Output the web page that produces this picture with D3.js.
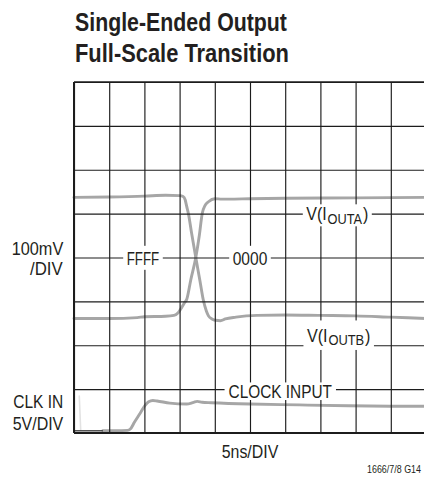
<!DOCTYPE html>
<html><head><meta charset="utf-8">
<script src="https://cdn.jsdelivr.net/npm/d3@7"></script>
<style>
html,body{margin:0;padding:0;background:#fff;overflow:hidden;}
svg{display:block;}
text{font-family:"Liberation Sans",Arial,Helvetica,sans-serif;fill:#231f20;}
</style></head><body>
<svg id="chart" width="424" height="487"></svg>
<script>
// ---- data (time in ns, level in screen divisions from bottom) ----
const timeTicks = [0,5,10,15,20,25,30,35,40,45,50];
const divTicks  = [0,1,2,3,4,5,6,7,8];

const timeA  = [0,5,10,13,15,15.5,15.8,16.0,16.24,16.7,17.3,17.9,18.37,18.8,19.1,19.6,20.1,20.8,21.5,23,26,30,35,40,45,50];
const levelA = [5.37,5.38,5.40,5.42,5.41,5.39,5.31,5.17,5.01,4.56,4.0,3.46,3.03,2.78,2.67,2.60,2.57,2.56,2.60,2.64,2.68,2.69,2.68,2.67,2.64,2.61];

const timeB  = [0,5,9,10,13,14.2,14.8,15.3,15.7,16.0,16.6,17.3,17.8,18.22,18.6,19.1,20.0,21,22,25,30,40,50];
const levelB = [2.61,2.61,2.63,2.65,2.66,2.68,2.74,2.86,2.97,3.04,3.5,4.0,4.5,5.01,5.18,5.27,5.34,5.33,5.33,5.34,5.35,5.36,5.37];

const timeClk  = [4.1,6,7.6,8.0,8.6,9.4,10.1,10.6,11.2,11.8,13.6,16.0,17.0,17.5,18.2,19.5,25,32,39,46,50];
const levelClk = [0.05,0.05,0.06,0.09,0.25,0.45,0.63,0.71,0.74,0.73,0.68,0.66,0.70,0.72,0.70,0.69,0.66,0.64,0.62,0.61,0.61];

const timeMarker  = [0.1,4.1];
const levelMarker = [0.05,0.05];

const timeGhost  = [0.75,0.85,0.95];
const levelGhost = [0.84,0.45,0.07];

const titleLines = ["Single-Ended Output","Full-Scale Transition"];
const leftLabelsOut = ["100mV","/DIV"];
const leftLabelsClk = ["CLK IN","5V/DIV"];
const codeLabels = ["FFFF","0000"];
const traceLabelA = [{t:"V(I"},{t:"OUTA",sub:true},{t:")"}];
const traceLabelB = [{t:"V(I"},{t:"OUTB",sub:true},{t:")"}];
const clockLabel = "CLOCK INPUT";
const xAxisLabel = "5ns/DIV";
const figId = "1666/7/8 G14";

// ---- drawing ----
const svg = d3.select("#chart");
const x = d3.scaleLinear().domain([0,50]).range([74,426]);
const y = d3.scaleLinear().domain([0,8]).range([433,82]);

const defs = svg.append("defs");
defs.append("filter").attr("id","soft").attr("x","-5%").attr("y","-50%").attr("width","110%").attr("height","200%")
  .append("feGaussianBlur").attr("stdDeviation",0.6);

const line = d3.line().x(d=>x(d[0])).y(d=>y(d[1])).curve(d3.curveMonotoneX);
const straight = d3.line().x(d=>x(d[0])).y(d=>y(d[1]));
const zip = (a,b)=>a.map((v,i)=>[v,b[i]]);

const traces = svg.append("g").attr("filter","url(#soft)").attr("fill","none").attr("stroke-linejoin","round").attr("stroke-linecap","round");
traces.append("path").attr("d",straight(zip(timeGhost,levelGhost))).attr("stroke","#e2e2e2").attr("stroke-width",1.6);
[[timeA,levelA],[timeB,levelB],[timeClk,levelClk]].forEach(([t,l])=>{
  traces.append("path").attr("d",line(zip(t,l))).attr("stroke","#a6a6a6").attr("stroke-width",2.9);
});
svg.append("path").attr("d",straight(zip(timeMarker,levelMarker)))
  .attr("stroke","#333").attr("stroke-width",1.3).attr("fill","none");

// grid
const gx = svg.append("g").attr("transform",`translate(0,${y(0)})`)
  .call(d3.axisBottom(x).tickValues(timeTicks).tickSize(-(y(0)-y(8))).tickFormat(""));
const gy = svg.append("g").attr("transform",`translate(${x(0)},0)`)
  .call(d3.axisLeft(y).tickValues(divTicks).tickSize(-(x(50)-x(0))).tickFormat(""));
[gx,gy].forEach(g=>{ g.select(".domain").remove(); g.selectAll(".tick line").attr("stroke","#1c1c1c").attr("stroke-width",1.15); });
// frame
svg.append("line").attr("x1",x(0)).attr("x2",x(0)).attr("y1",y(8)).attr("y2",y(0)).attr("stroke","#1c1c1c").attr("stroke-width",2);
svg.append("line").attr("x1",x(0)).attr("x2",x(50)).attr("y1",y(0)).attr("y2",y(0)).attr("stroke","#1c1c1c").attr("stroke-width",2);
svg.append("line").attr("x1",x(0)).attr("x2",x(50)).attr("y1",y(8)).attr("y2",y(8)).attr("stroke","#1c1c1c").attr("stroke-width",1.6);

const boxLayer = svg.append("g");
const textLayer = svg.append("g");

// label made of separate text pieces (subscripts are their own text), horizontally condensed to a target width
function label(parts, o){
  if(typeof parts==="string") parts=[{t:parts}];
  const size=o.size||18.5;
  const gap=0.8;
  const pieces=parts.map(p=>{
    const fs=p.sub?size*0.8:size;
    const t=textLayer.append("text").attr("x",0).attr("y",0).attr("font-size",fs).text(p.t);
    if(o.bold) t.attr("font-weight","bold");
    return {t, w:t.node().getComputedTextLength(), dy:p.sub?3.2:0};
  });
  const natural=d3.sum(pieces,p=>p.w);
  const gaps=gap*(pieces.length-1);
  const k=o.width?(o.width-gaps)/natural:1;
  const total=natural*k+gaps;
  const start=o.anchor==="end"?o.x-total:o.anchor==="middle"?o.x-total/2:o.x;
  let x0=start;
  pieces.forEach(p=>{
    p.t.attr("transform",`translate(${x0},${o.y+p.dy}) scale(${k},1)`);
    x0+=p.w*k+gap;
  });
  if(o.box){
    boxLayer.append("rect").attr("x",start-o.box[0]).attr("width",total+2*o.box[0])
      .attr("y",o.y-o.box[1]).attr("height",o.box[1]+o.box[2]).attr("fill","#fff");
  }
}

// title
label(titleLines[0],{x:75,y:30.7,size:26.5,bold:true,width:212});
label(titleLines[1],{x:75,y:61.7,size:26.5,bold:true,width:214});

// left labels
label(leftLabelsOut[0],{x:63.3,y:255,anchor:"end",width:51.6});
label(leftLabelsOut[1],{x:62.7,y:275,anchor:"end",width:32.7});
label(leftLabelsClk[0],{x:63.3,y:408.3,anchor:"end",width:50});
label(leftLabelsClk[1],{x:63.3,y:430,anchor:"end",width:50.6});

// in-plot labels
label(codeLabels[0],{x:x(9.8),y:y(4)+7.3,anchor:"middle",width:32.6,box:[3.5,19,5]});
label(codeLabels[1],{x:x(25),y:y(4)+7.3,anchor:"middle",width:34.6,box:[3.5,19,5]});
label(traceLabelA,{x:x(37.4),y:y(5)+6.7,anchor:"middle",width:62,box:[3.5,16,6]});
label(traceLabelB,{x:x(37.6),y:y(2)-3.3,anchor:"middle",width:63.5,box:[3.5,21.5,8]});
label(clockLabel,{x:x(29.3),y:y(1)+9.3,anchor:"middle",width:103.4,box:[4,16,1.6]});

// axis label / id
label(xAxisLabel,{x:x(25),y:458.3,anchor:"middle",width:56.6});
label(figId,{x:367,y:473.3,size:10,width:54});
</script>
</body></html>
